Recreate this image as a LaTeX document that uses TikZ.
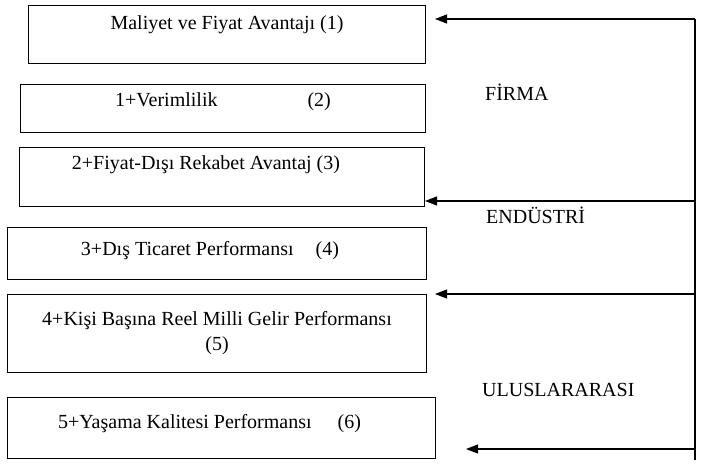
\documentclass[tikz,border=0pt]{standalone}
\usepackage{fontspec}
\setmainfont{Liberation Serif}
\usetikzlibrary{arrows.meta}

\begin{document}
\begin{tikzpicture}[x=1pt,y=-1pt,every node/.append style={font=\fontsize{20}{26}\selectfont},
                    kutu/.style={draw,line width=1pt,anchor=north west,inner sep=0pt},
                    etiket/.style={anchor=base west,inner sep=0pt}]
    \useasboundingbox (0,0) rectangle (703,466);
    \node[kutu,minimum width=397,text height=24pt,text depth=34pt] (k1) at (28,5) {Maliyet ve Fiyat Avantajı (1)};
    \node[kutu,minimum width=405,text height=22pt,text depth=26pt] (k2) at (20,84) {1+Verimlilik\hspace{4.5em}(2)};
    \node[kutu,minimum width=405,text height=22pt,text depth=37pt] (k3) at (19,147) {2+Fiyat-Dışı Rekabet Avantaj (3)\hspace*{1.6em}};
    \node[kutu,minimum width=419,text height=28pt,text depth=24pt] (k4) at (7,227) {3+Dış Ticaret Performansı\hspace{1.1em}(4)\hspace*{0.7em}};
    \node[kutu,minimum width=419,minimum height=78,align=center] (k5) at (7,294) {4+Kişi Başına Reel Milli Gelir Performansı\\[-1pt](5)};
    \node[kutu,minimum width=428,text height=31pt,text depth=30pt] (k6) at (7,397) {5+Yaşama Kalitesi Performansı\hspace{1.3em}(6)\hspace*{1.2em}};
    \coordinate (ust) at (695,19);
    \coordinate (alt) at (695,460);
    \coordinate (s2) at (695,201);
    \coordinate (s3) at (695,294);
    \coordinate (s4) at (695,449);
    \coordinate (u1) at (435,19);
    \coordinate (u3) at (435,294);
    \coordinate (u4) at (466,449);
    \begin{scope}[line width=1.1pt,-{Triangle[length=12pt,width=9pt]}]
      \draw[-] (ust) -- (alt);
      \draw (ust) -- (u1);
      \draw (s2) -- (k3.east |- s2);
      \draw (s3) -- (u3);
      \draw (s4) -- (u4);
    \end{scope}
    \node[etiket] (firma) at (485,100) {FİRMA};
    \node[etiket] (endustri) at (486,223) {ENDÜSTRİ};
    \node[etiket] (ulus) at (482,396) {ULUSLARARASI};
\end{tikzpicture}
\end{document}
